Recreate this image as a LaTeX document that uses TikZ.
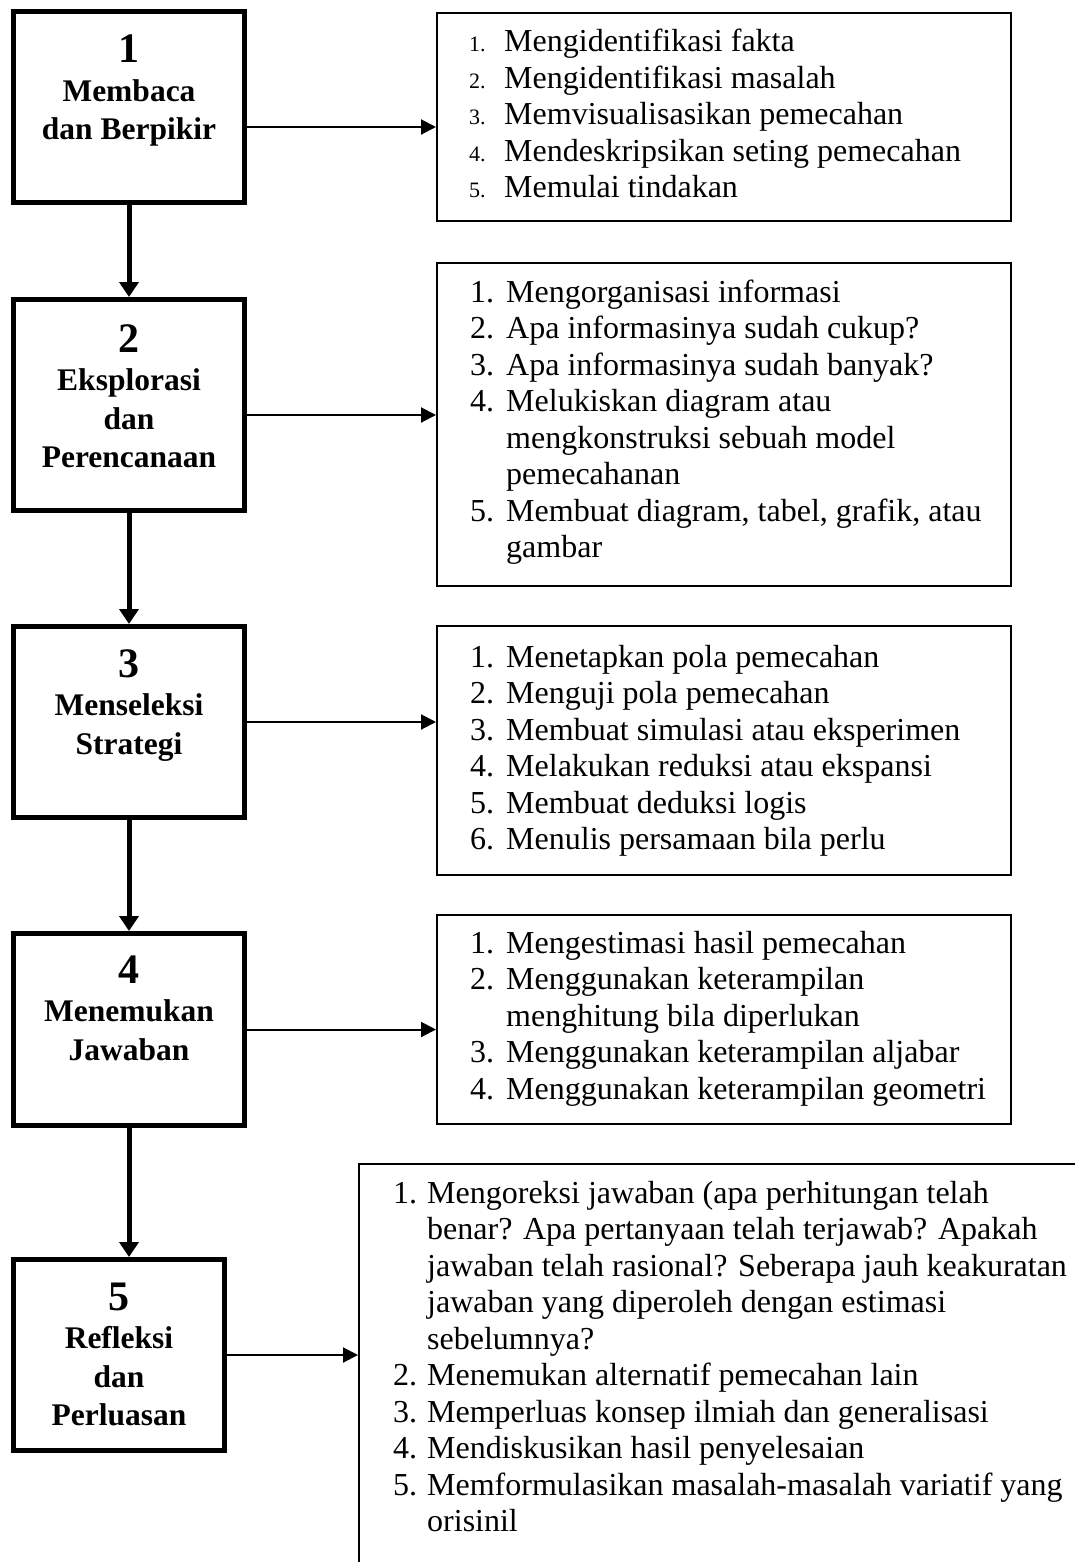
\documentclass[tikz,border=0pt]{standalone}
\usepackage{fontspec}
\setmainfont{Liberation Serif}
\usetikzlibrary{arrows.meta}
\newlength\numw
\newcommand{\nn}[1]{\makebox[\numw][l]{#1}}
\newcommand{\sn}[1]{\makebox[\numw][l]{\fontsize{22}{22}\selectfont #1}}
\begin{document}
\begin{tikzpicture}[x=1pt,y=-1pt,
  stepbox/.style={draw, line width=5pt, rectangle, inner sep=0pt, anchor=north west},
  listbox/.style={draw, line width=1.6pt, rectangle, inner sep=0pt, anchor=north west},
  lbl/.style={anchor=base, inner sep=0pt, font=\bfseries\fontsize{31.5}{38.5}\selectfont},
  listtext/.style={anchor=base west, inner sep=0pt, font=\fontsize{32}{36.5}\selectfont},
  downarrow/.style={line width=5pt, -{Triangle[length=15pt,width=19pt]}},
  sidearrow/.style={line width=2pt, -{Triangle[length=15pt,width=15pt]}}
  ]
\useasboundingbox (0,0) rectangle (1075,1562);
\clip (0,0) rectangle (1075,1562);
\fill[white] (0,0) rectangle (1075,1562);

% step boxes
\node[stepbox, minimum width=231pt, minimum height=191pt] (b1) at (11,9) {};
\node[stepbox, minimum width=231pt, minimum height=211pt] (b2) at (11,297) {};
\node[stepbox, minimum width=231pt, minimum height=191pt] (b3) at (11,624) {};
\node[stepbox, minimum width=231pt, minimum height=192pt] (b4) at (11,931) {};
\node[stepbox, minimum width=211pt, minimum height=191pt] (b5) at (11,1257) {};

% step labels
\node[lbl] (n1) at ([yshift=-54pt]b1.north) {\begin{tabular}[t]{@{}c@{}}{\fontsize{42}{42}\selectfont 1}\\Membaca\\dan Berpikir\end{tabular}};
\node[lbl] (n2) at ([yshift=-55pt]b2.north) {\begin{tabular}[t]{@{}c@{}}{\fontsize{42}{42}\selectfont 2}\\Eksplorasi\\dan\\Perencanaan\end{tabular}};
\node[lbl] (n3) at ([yshift=-53pt]b3.north) {\begin{tabular}[t]{@{}c@{}}{\fontsize{42}{42}\selectfont 3}\\Menseleksi\\Strategi\end{tabular}};
\node[lbl] (n4) at ([yshift=-52pt]b4.north) {\begin{tabular}[t]{@{}c@{}}{\fontsize{42}{42}\selectfont 4}\\Menemukan\\Jawaban\end{tabular}};
\node[lbl] (n5) at ([yshift=-53pt]b5.north) {\begin{tabular}[t]{@{}c@{}}{\fontsize{42}{42}\selectfont 5}\\Refleksi\\dan\\Perluasan\end{tabular}};

% list boxes
\node[listbox, minimum width=574.4pt, minimum height=208.4pt] (l1) at (436,12) {};
\node[listbox, minimum width=574.4pt, minimum height=323.4pt] (l2) at (436,262) {};
\node[listbox, minimum width=574.4pt, minimum height=249.4pt] (l3) at (436,625) {};
\node[listbox, minimum width=574.4pt, minimum height=209.4pt] (l4) at (436,914) {};
\node[listbox, minimum width=760pt, minimum height=450pt] (l5) at (358,1163) {};

% list texts
\node[listtext] (t1) at (469,52) {\setlength\numw{35pt}\begin{tabular}[t]{@{}l@{}l@{}}
\sn{1.} & Mengidentifikasi fakta\\
\sn{2.} & Mengidentifikasi masalah\\
\sn{3.} & Memvisualisasikan pemecahan\\
\sn{4.} & Mendeskripsikan seting pemecahan\\
\sn{5.} & Memulai tindakan
\end{tabular}};
\node[listtext] (t2) at (470,302) {\setlength\numw{36pt}\begin{tabular}[t]{@{}l@{}l@{}}
\nn{1.} & Mengorganisasi informasi\\
\nn{2.} & Apa informasinya sudah cukup?\\
\nn{3.} & Apa informasinya sudah banyak?\\
\nn{4.} & Melukiskan diagram atau\\
 & mengkonstruksi sebuah model\\
 & pemecahanan\\
\nn{5.} & Membuat diagram, tabel, grafik, atau\\
 & gambar
\end{tabular}};
\node[listtext] (t3) at (470,667) {\setlength\numw{36pt}\begin{tabular}[t]{@{}l@{}l@{}}
\nn{1.} & Menetapkan pola pemecahan\\
\nn{2.} & Menguji pola pemecahan\\
\nn{3.} & Membuat simulasi atau eksperimen\\
\nn{4.} & Melakukan reduksi atau ekspansi\\
\nn{5.} & Membuat deduksi logis\\
\nn{6.} & Menulis persamaan bila perlu
\end{tabular}};
\node[listtext] (t4) at (470,953) {\setlength\numw{36pt}\begin{tabular}[t]{@{}l@{}l@{}}
\nn{1.} & Mengestimasi hasil pemecahan\\
\nn{2.} & Menggunakan keterampilan\\
 & menghitung bila diperlukan\\
\nn{3.} & Menggunakan keterampilan aljabar\\
\nn{4.} & Menggunakan keterampilan geometri
\end{tabular}};
\node[listtext] (t5) at (393,1203) {\setlength\numw{34pt}\begin{tabular}[t]{@{}l@{}l@{}}
\nn{1.} & Mengoreksi jawaban (apa perhitungan telah\\
 & benar? Apa pertanyaan telah terjawab? Apakah\\
 & jawaban telah rasional? Seberapa jauh keakuratan\\
 & jawaban yang diperoleh dengan estimasi\\
 & sebelumnya?\\
\nn{2.} & Menemukan alternatif pemecahan lain\\
\nn{3.} & Memperluas konsep ilmiah dan generalisasi\\
\nn{4.} & Mendiskusikan hasil penyelesaian\\
\nn{5.} & Memformulasikan masalah-masalah variatif yang\\
 & orisinil
\end{tabular}};

% vertical arrows
\draw[downarrow] (b1.south) -- (b2.north);
\draw[downarrow] (b2.south) -- (b3.north);
\draw[downarrow] (b3.south) -- (b4.north);
\draw[downarrow] (b4.south) -- (b4.south |- b5.north);

% side arrows
\coordinate (s1) at ([yshift=-20pt]b1.east);
\coordinate (s2) at ([yshift=-10pt]b2.east);
\coordinate (s3) at (b3.east);
\coordinate (s4) at (b4.east);
\coordinate (s5) at (b5.east);
\draw[sidearrow] (s1) -- (s1 -| l1.west);
\draw[sidearrow] (s2) -- (s2 -| l2.west);
\draw[sidearrow] (s3) -- (s3 -| l3.west);
\draw[sidearrow] (s4) -- (s4 -| l4.west);
\draw[sidearrow] (s5) -- (s5 -| l5.west);
\end{tikzpicture}
\end{document}
